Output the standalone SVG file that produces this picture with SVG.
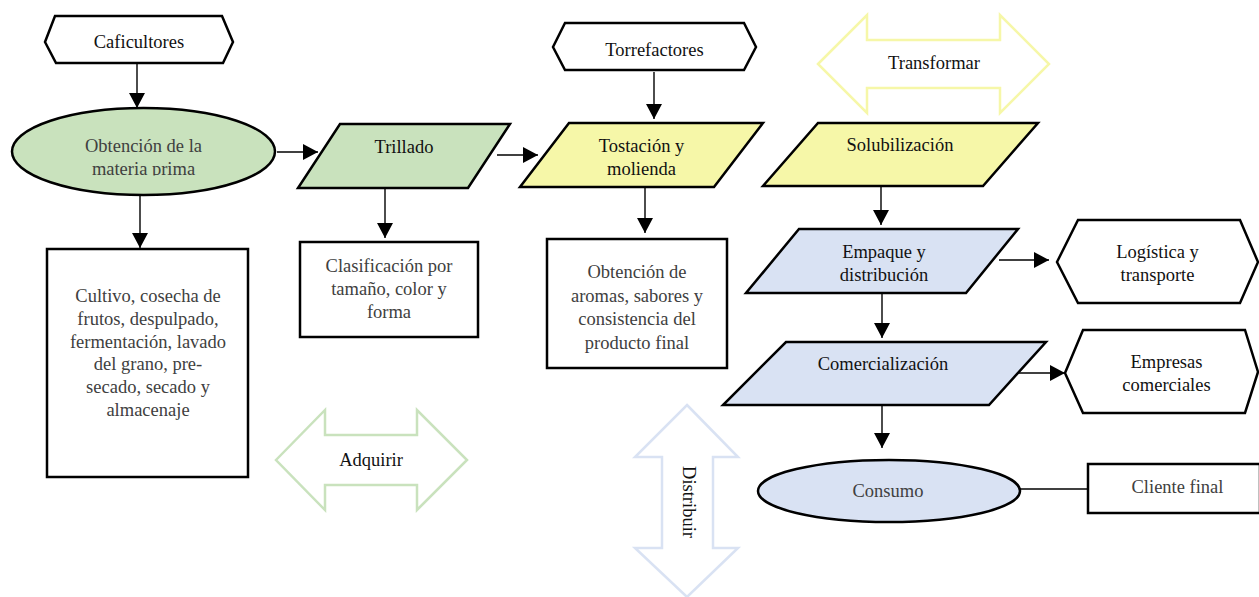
<svg xmlns="http://www.w3.org/2000/svg" width="1259" height="597" viewBox="0 0 1259 597">
<style>
  .t{font-family:"Liberation Serif","Times New Roman",serif;font-size:18.5px;text-anchor:middle;fill:#111}
  .g{fill:#404040}
  .sh{stroke:#000;stroke-width:2.5;stroke-linejoin:miter}
  .w{fill:#fff}
  .green{fill:#c9e2bd}
  .yellow{fill:#f6f7a8}
  .blue{fill:#d9e2f3}
  .big{fill:#fff;stroke-width:2.5}
  .c{stroke:#000;stroke-width:1.4;fill:none}
</style>
<defs>
  <marker id="ah" viewBox="0 0 15 16" refX="15" refY="8" markerWidth="15" markerHeight="16" markerUnits="userSpaceOnUse" orient="auto">
    <path d="M0,0 L15,8 L0,16 z" fill="#000"/>
  </marker>
  <clipPath id="clipEll"><rect x="0" y="0" width="300" height="175.5"/></clipPath>
  <clipPath id="clipLog"><rect x="1050" y="200" width="209" height="283"/></clipPath>
</defs>
<rect width="1259" height="597" fill="#fff"/>

<g id="connectors">
  <line class="c" x1="137" y1="63" x2="137" y2="108" marker-end="url(#ah)"/>
  <line class="c" x1="277" y1="152" x2="318" y2="152" marker-end="url(#ah)"/>
  <line class="c" x1="497" y1="155" x2="538" y2="155" marker-end="url(#ah)"/>
  <line class="c" x1="654" y1="72" x2="654" y2="119" marker-end="url(#ah)"/>
  <line class="c" x1="645" y1="187" x2="645" y2="233" marker-end="url(#ah)"/>
  <line class="c" x1="385" y1="188" x2="385" y2="238" marker-end="url(#ah)"/>
  <line class="c" x1="140" y1="195" x2="140" y2="248" marker-end="url(#ah)"/>
  <line class="c" x1="881" y1="186" x2="881" y2="225" marker-end="url(#ah)"/>
  <line class="c" x1="999" y1="260" x2="1049" y2="260" marker-end="url(#ah)"/>
  <line class="c" x1="882" y1="293" x2="882" y2="338" marker-end="url(#ah)"/>
  <line class="c" x1="1015" y1="373" x2="1065" y2="373" marker-end="url(#ah)"/>
  <line class="c" x1="882" y1="405" x2="882" y2="448" marker-end="url(#ah)"/>
  <line class="c" x1="1020" y1="489" x2="1088" y2="489"/>
</g>

<g id="caficultores">
  <polygon class="sh w" points="45,42 55,16 222,16 233,42 223,63 56,63"/>
  <text class="t" x="139" y="48">Caficultores</text>
</g>

<g id="obtencion-materia">
  <ellipse class="sh green" cx="143.5" cy="151.5" rx="131.5" ry="43.5"/>
  <g clip-path="url(#clipEll)">
    <text class="t g" x="143.5" y="152">Obtención de la</text>
    <text class="t g" x="143.5" y="175">materia prima</text>
  </g>
</g>

<g id="cultivo">
  <rect class="sh w" x="47" y="249" width="201" height="228"/>
  <text class="t g" x="148" y="302">Cultivo, cosecha de</text>
  <text class="t g" x="148" y="325">frutos, despulpado,</text>
  <text class="t g" x="148" y="348">fermentación, lavado</text>
  <text class="t g" x="148" y="370">del grano, pre-</text>
  <text class="t g" x="148" y="393">secado, secado y</text>
  <text class="t g" x="148" y="416">almacenaje</text>
</g>

<g id="trillado">
  <polygon class="sh green" points="340,124 510,124 468,188 298,188"/>
  <text class="t" x="404" y="153">Trillado</text>
</g>

<g id="clasificacion">
  <rect class="sh w" x="300" y="242" width="178" height="95"/>
  <text class="t g" x="389" y="272">Clasificación por</text>
  <text class="t g" x="389" y="295">tamaño, color y</text>
  <text class="t g" x="389" y="318">forma</text>
</g>

<g id="torrefactores">
  <polygon class="sh w" points="553,47 565,23 744,23 756,47 744,70 565,70"/>
  <text class="t" x="654.5" y="56">Torrefactores</text>
</g>

<g id="tostacion">
  <polygon class="sh yellow" points="569,123 763,123 714,187 520,187"/>
  <text class="t" x="641.5" y="152">Tostación y</text>
  <text class="t" x="641.5" y="175">molienda</text>
</g>

<g id="obtencion-aromas">
  <rect class="sh w" x="547" y="239" width="180" height="129"/>
  <text class="t g" x="637" y="278">Obtención de</text>
  <text class="t g" x="637" y="302">aromas, sabores y</text>
  <text class="t g" x="637" y="325">consistencia del</text>
  <text class="t g" x="637" y="349">producto final</text>
</g>

<g id="transformar">
  <polygon fill="#fff" stroke="#f6f7a8" stroke-width="2.5" points="818,64 867,15 867,40 1000,40 1000,15 1049,64 1000,113 1000,88 867,88 867,113"/>
  <text class="t" x="934" y="69">Transformar</text>
</g>

<g id="solubilizacion">
  <polygon class="sh yellow" points="818,123 1038,123 983,186 763,186"/>
  <text class="t" x="900" y="151">Solubilización</text>
</g>

<g id="empaque">
  <polygon class="sh blue" points="799,229 1018,229 966,293 746,293"/>
  <text class="t" x="884" y="258">Empaque y</text>
  <text class="t" x="884" y="281">distribución</text>
</g>

<g id="logistica">
  <polygon class="sh w" points="1057,262 1078,220 1240,220 1258,262 1240,303 1078,303"/>
  <g clip-path="url(#clipLog)">
    <text class="t" x="1157.5" y="258">Logística y</text>
    <text class="t" x="1157.5" y="281">transporte</text>
  </g>
</g>

<g id="comercializacion">
  <polygon class="sh blue" points="786,342 1046,342 989,405 723,405"/>
  <text class="t" x="883" y="370">Comercialización</text>
</g>

<g id="empresas">
  <polygon class="sh w" points="1065,373 1083,330 1245,330 1258,372 1245,413 1083,413"/>
  <text class="t" x="1166.5" y="368">Empresas</text>
  <text class="t" x="1166.5" y="391">comerciales</text>
</g>

<g id="adquirir">
  <polygon fill="#fff" stroke="#c9e2bd" stroke-width="2.5" points="276,460 325,410 325,435 417,435 417,410 467,460 417,510 417,485 325,485 325,510"/>
  <text class="t" x="371" y="466">Adquirir</text>
</g>

<g id="distribuir">
  <polygon fill="#fff" stroke="#d9e2f3" stroke-width="2.5" points="687,405 738,457 713,457 713,548 738,548 687,597 635,548 662,548 662,457 635,457"/>
  <text class="t" transform="translate(683,502) rotate(90)" x="0" y="0">Distribuir</text>
</g>

<g id="consumo">
  <ellipse class="sh blue" cx="889" cy="491" rx="131" ry="31"/>
  <text class="t g" x="888" y="497">Consumo</text>
</g>

<g id="cliente">
  <rect class="sh w" x="1088" y="464" width="172" height="49"/>
  <text class="t g" x="1177.5" y="493">Cliente final</text>
</g>
</svg>
